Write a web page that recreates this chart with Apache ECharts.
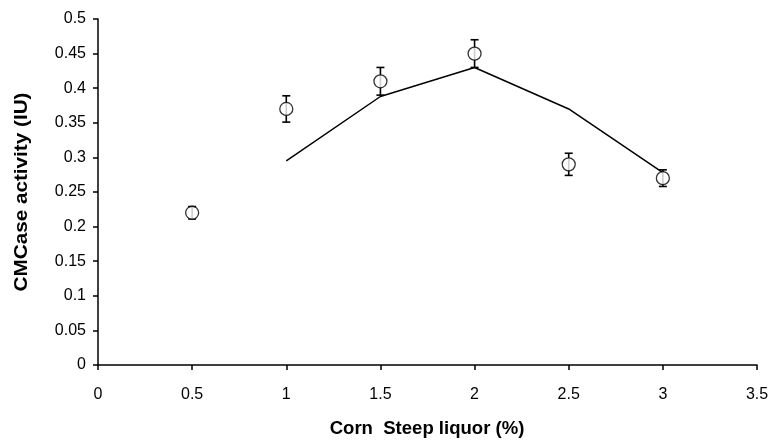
<!DOCTYPE html>
<html><head><meta charset="utf-8">
<script src="https://cdn.jsdelivr.net/npm/echarts@6/dist/echarts.min.js"></script>
<style>html,body{margin:0;padding:0;background:#fff}#c{width:773px;height:443px}</style>
</head><body><div id="c"></div>
<script>
var xValues = [0.5, 1, 1.5, 2, 2.5, 3];
var activity = [0.22, 0.37, 0.41, 0.45, 0.29, 0.27];
var errors = [0.009, 0.019, 0.02, 0.02, 0.016, 0.012];
var trendX = [1, 1.5, 2, 2.5, 3];
var trendY = [0.295, 0.388, 0.43, 0.37, 0.278];
var xTicks = ['0', '0.5', '1', '1.5', '2', '2.5', '3', '3.5'];
var yTicks = ['0', '0.05', '0.1', '0.15', '0.2', '0.25', '0.3', '0.35', '0.4', '0.45', '0.5'];
var xTitle = 'Corn  Steep liquor (%)';
var yTitle = 'CMCase activity (IU)';

var font = 'Liberation Sans, Arial, sans-serif';
var chart = echarts.init(document.getElementById('c'));
chart.setOption({
  animation: false,
  grid: {left: 98, right: 16, top: 19, bottom: 78},
  graphic: [
    {type: 'text', x: 427, y: 429, scaleX: 1.03,
      style: {text: xTitle, fontFamily: font, fontSize: 18, fontWeight: 'bold', fill: '#000',
        textAlign: 'center', textVerticalAlign: 'middle'}},
    {type: 'text', x: 22, y: 192, rotation: Math.PI / 2, scaleX: 1.15,
      style: {text: yTitle, fontFamily: font, fontSize: 18, fontWeight: 'bold', fill: '#000',
        textAlign: 'center', textVerticalAlign: 'middle'}}
  ],
  xAxis: {
    type: 'value', min: 0, max: 3.5, interval: 0.5,
    axisLine: {lineStyle: {color: '#000', width: 1.5}},
    axisTick: {show: true, length: 5, lineStyle: {color: '#000', width: 1.5}},
    axisLabel: {fontFamily: font, fontSize: 16, color: '#000', margin: 22,
      formatter: function (v) { return xTicks[Math.round(v / 0.5)]; }},
    splitLine: {show: false}
  },
  yAxis: {
    type: 'value', min: 0, max: 0.5, interval: 0.05,
    axisLine: {show: true, lineStyle: {color: '#000', width: 1.5}},
    axisTick: {show: true, length: 5, lineStyle: {color: '#000', width: 1.5}},
    axisLabel: {fontFamily: font, fontSize: 16, color: '#000', margin: 12,
      formatter: function (v) { return yTicks[Math.round(v / 0.05)]; }},
    splitLine: {show: false}
  },
  series: [
    {
      type: 'line', data: trendX.map(function (x, i) { return [x, trendY[i]]; }),
      showSymbol: false, lineStyle: {color: '#000', width: 1.5}, z: 2
    },
    {
      type: 'custom', z: 3,
      data: xValues.map(function (x, i) { return [x, activity[i], errors[i]]; }),
      renderItem: function (params, api) {
        var x = api.value(0), y = api.value(1), e = api.value(2);
        var top = api.coord([x, y + e]);
        var bot = api.coord([x, y - e]);
        var cap = 4;
        var st = {stroke: '#000', lineWidth: 1.6};
        return {type: 'group', children: [
          {type: 'line', shape: {x1: top[0], y1: top[1], x2: bot[0], y2: bot[1]}, style: st},
          {type: 'line', shape: {x1: top[0] - cap, y1: top[1], x2: top[0] + cap, y2: top[1]}, style: st},
          {type: 'line', shape: {x1: bot[0] - cap, y1: bot[1], x2: bot[0] + cap, y2: bot[1]}, style: st}
        ]};
      }
    },
    {
      type: 'scatter', z: 4,
      data: xValues.map(function (x, i) { return [x, activity[i]]; }),
      symbol: 'circle', symbolSize: 13,
      itemStyle: {color: '#fff', borderColor: '#000', borderWidth: 1.3}
    }
  ]
});
</script></body></html>
